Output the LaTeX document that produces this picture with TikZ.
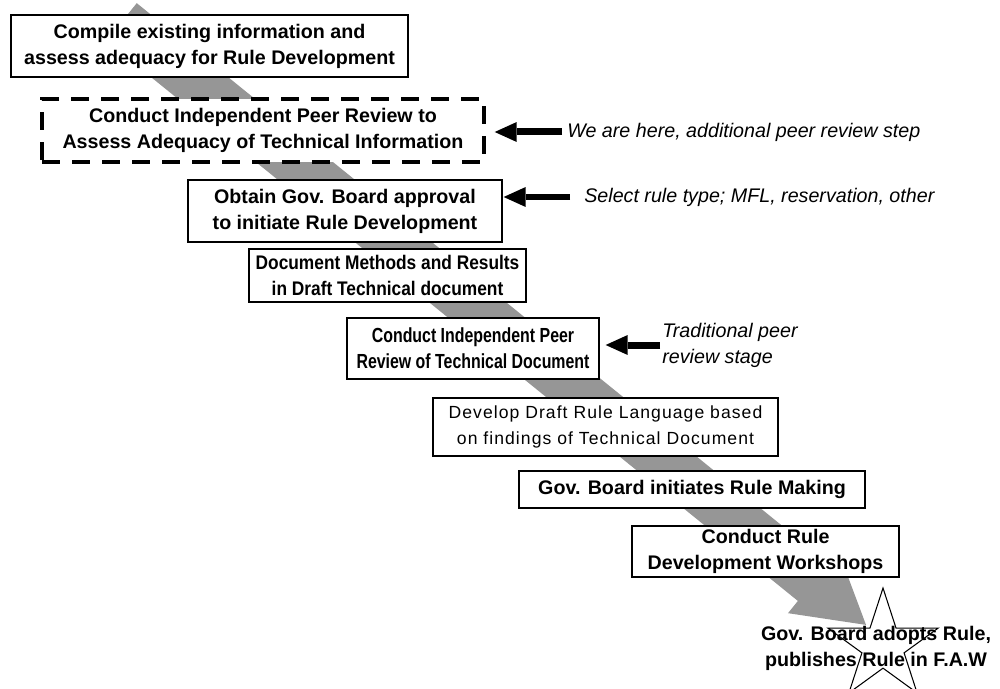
\documentclass[tikz,border=0pt]{standalone}
\usepackage{fontspec}
\setmainfont{Liberation Sans}
\newfontfamily\narrowfont[FakeStretch=0.78]{Liberation Sans}
\newfontfamily\semifont[FakeStretch=0.88]{Liberation Sans}
\newfontfamily\widefont[LetterSpace=6]{Liberation Sans}
\definecolor{band}{RGB}{150,150,150}
\usepackage{tikz}
\usetikzlibrary{positioning}
\usetikzlibrary{arrows.meta,shapes.geometric}
\newcommand{\boxsize}{\fontsize{11.2}{14.8}\selectfont}

\tikzset{
  stepbox/.style={draw,rectangle,line width=0.8pt,fill=white,align=center,inner sep=0pt,font=\boxsize\bfseries},
  note/.style={anchor=west,align=left,inner sep=0pt,font=\boxsize\itshape},
  pointer/.style={line width=0.14cm,-{Triangle[width=0.4cm,length=0.44cm,line width=0pt]}}
}

\begin{document}
\begin{tikzpicture}[x=0.02cm,y=-0.02cm]
\useasboundingbox (0,0) rectangle (1000,689);
%grey band behind the steps
\begin{scope}[shift={(121.5,22)},rotate=-39]
  \fill[band] (0,-24.25) -- (890,-24.25) -- (890,-40) -- (958,0) -- (890,40) -- (890,24.25) -- (0,24.25) -- cycle;
\end{scope}

%steps
\node (compile) at (209.5,46) [stepbox,minimum width=7.94cm,minimum height=1.24cm] {Compile existing information and\\assess adequacy for Rule Development};
\node (peer) at (263,130.5) [stepbox,line width=0.07cm,dash pattern=on 0.36cm off 0.24cm,minimum width=8.84cm,minimum height=1.26cm] {Conduct Independent Peer Review to\\Assess Adequacy of Technical Information};
\node (approve) at (345,211) [stepbox,minimum width=6.28cm,minimum height=1.24cm] {Obtain Gov. Board approval\\to initiate Rule Development};
\node (draft) at (387.5,275.5) [stepbox,font=\boxsize\semifont\bfseries,minimum width=5.54cm,minimum height=1.06cm] {Document Methods and Results\\in Draft Technical document};
\node (review) at (473,348.5) [stepbox,font=\fontsize{11.6}{14.8}\selectfont\narrowfont\bfseries,minimum width=5.04cm,minimum height=1.22cm] {Conduct Independent Peer\\Review of Technical Document};
\node (language) at (605.5,427) [stepbox,font=\fontsize{10}{14.5}\selectfont\widefont,minimum width=6.9cm,minimum height=1.16cm] {Develop Draft Rule Language based\\on findings of Technical Document};
\node (making) at (692,489.5) [stepbox,minimum width=6.92cm,minimum height=0.74cm] {Gov. Board initiates Rule Making};
\node (workshop) at (765.5,551.5) [stepbox,minimum width=5.34cm,minimum height=1.02cm] {Conduct Rule\\Development Workshops};

%final step
\node (goal) at (883,646) [draw,star,star points=5,star point ratio=2.618,minimum size=2.32cm,inner sep=0pt,line width=0.6pt] {};
\node (adopt) at (876,648) [align=center,inner sep=0pt,font=\boxsize\bfseries] {Gov. Board adopts Rule,\\publishes Rule in F.A.W};

%remarks
\node (here) at (567,132) [note] {We are here, additional peer review step};
\node (select) at (584,197) [note] {Select rule type; MFL, reservation, other};
\node (usual) at (662,345) [note] {Traditional peer\\review stage};

\draw [pointer,shorten <=0.1cm,shorten >=0.18cm] (here.west) -- (here.west -| peer.east);
\draw [pointer,shorten <=0.28cm,shorten >=0.02cm] (select.west) -- (select.west -| approve.east);
\draw [pointer,shorten <=0.04cm,shorten >=0.12cm] (usual.west) -- (usual.west -| review.east);
\end{tikzpicture}
\end{document}
